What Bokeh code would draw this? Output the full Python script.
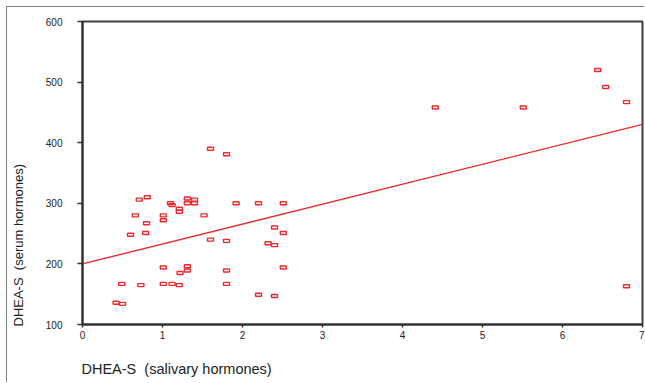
from bokeh.plotting import figure
from bokeh.models import FixedTicker, Range1d, Title
from bokeh.embed import file_html
from bokeh.resources import INLINE

# Data
saliva = [1.60, 1.80, 0.71, 0.81, 1.10, 1.12, 1.21, 1.21, 1.31, 1.31, 1.40, 1.40,
          1.92, 2.20, 2.51, 0.66, 1.01, 1.01, 0.80, 1.52, 0.60, 0.79, 1.60, 1.80,
          2.40, 2.51, 2.32, 2.40, 1.01, 1.31, 1.31, 1.22, 1.80, 2.51, 0.49, 0.73,
          1.01, 1.12, 1.21, 1.80, 2.20, 2.40, 0.42, 0.50,
          4.41, 5.51, 6.44, 6.54, 6.80, 6.80]
serum = [390, 381, 306, 310, 300, 297, 291, 286, 308, 300, 306, 300,
         300, 300, 300, 280, 280, 272, 267, 280, 248, 251, 240, 238,
         260, 251, 234, 231, 194, 196, 189, 185, 189, 194, 167, 165,
         167, 167, 165, 167, 149, 147, 136, 134,
         458, 458, 520, 492, 467, 163]

fit_intercept = 200.0
fit_slope = 32.9

x_ticks = [0, 1, 2, 3, 4, 5, 6, 7]
y_ticks = [100, 200, 300, 400, 500, 600]
x_title = "DHEA-S\u00a0 (salivary hormones)"
y_title = "DHEA-S\u00a0 (serum hormones)"

RED = "#ee2a2f"

p = figure(width=638, height=376, output_backend="svg", toolbar_location=None,
           x_range=Range1d(0, 7), y_range=Range1d(100, 600),
           min_border_left=75, min_border_right=3, min_border_top=14, min_border_bottom=59)
p.styles = {"margin-left": "6px", "margin-top": "6px",
            "border-left": "1px solid #808080", "border-top": "1px solid #808080"}
p.background_fill_color = "white"
p.border_fill_color = "white"
p.outline_line_color = "#404040"
p.outline_line_width = 2
p.xgrid.visible = False
p.ygrid.visible = False

for ax in (p.xaxis[0], p.yaxis[0]):
    ax.axis_line_color = "#303030"
    ax.axis_line_width = 2
    ax.major_tick_line_color = "#303030"
    ax.major_tick_line_width = 1.5
    ax.minor_tick_line_color = None
    ax.major_tick_in = 0
    ax.major_label_text_font = "Liberation Sans"
    ax.major_label_text_font_size = "10px"
    ax.major_label_text_color = "#222222"
    # a blank, tiny axis label only reserves a gap before the title
    ax.axis_label = "\u00a0"
    ax.axis_label_text_font_size = "1px"
    ax.axis_label_standoff = 12

p.xaxis[0].ticker = FixedTicker(ticks=x_ticks)
p.yaxis[0].ticker = FixedTicker(ticks=y_ticks)
p.xaxis[0].major_tick_out = 3
p.xaxis[0].major_label_standoff = 3
p.yaxis[0].major_tick_out = 5
p.yaxis[0].major_label_standoff = 15

p.add_layout(Title(text=x_title, align="left", offset=-1, standoff=2,
                   text_font="Liberation Sans", text_font_size="14.5px",
                   text_font_style="normal", text_color="#222222"), "below")
p.add_layout(Title(text=y_title, align="left", offset=-2, standoff=2,
                   text_font="Liberation Sans", text_font_size="13px",
                   text_font_style="normal", text_color="#222222"), "left")

# regression line
fx = [x_ticks[0], x_ticks[-1]]
fy = [fit_intercept + fit_slope * v for v in fx]
p.line(fx, fy, line_color=RED, line_width=1.4)

# points
p.rect(saliva, serum, width=6, height=3, width_units="screen", height_units="screen",
       fill_color=None, line_color=RED, line_width=1.4)

open("out.html", "w").write(file_html(p, INLINE))
